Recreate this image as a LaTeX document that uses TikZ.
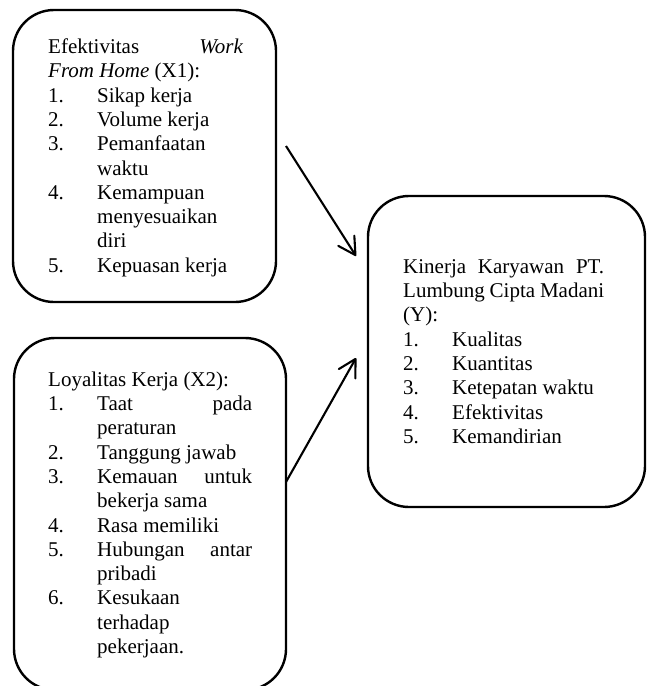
\documentclass[tikz,border=0pt]{standalone}
\usepackage{fontspec}
\setmainfont{Liberation Serif}
\usetikzlibrary{arrows.meta}
\newcommand\lbnum[1]{\makebox[49pt][l]{#1}}
\newcommand\lbind{\hspace*{49pt}}
\tikzset{
  panel/.style={draw, line width=2.4pt, rounded corners=41pt, inner sep=0pt},
  paneltext/.style={anchor=north west, inner sep=0pt, align=justify,
    font=\fontsize{21}{24.3}\selectfont},
  link/.style={line width=2.1pt, -{Straight Barb[length=17pt,width=19pt,line cap=round,line join=round]}}
}
\begin{document}
\begin{tikzpicture}[x=1pt,y=-1pt]
\useasboundingbox (0,0) rectangle (648,686);
% boxes
\node[panel, minimum width=263pt, minimum height=292pt] (b1) at (144.5,156) {};
\node[panel, minimum width=272pt, minimum height=352pt] (b2) at (150,514) {};
\node[panel, minimum width=277pt, minimum height=311pt] (b3) at (506.5,351.5) {};
% texts
\node[paneltext, text width=195pt] (t1) at (48,36.3) {\noindent\strut Efektivitas\hfill\textit{Work}\\
\textit{From Home} (X1):\\
\lbnum{1.}Sikap kerja\\
\lbnum{2.}Volume kerja\\
\lbnum{3.}Pemanfaatan\\
\lbind waktu\\
\lbnum{4.}Kemampuan\\
\lbind menyesuaikan\\
\lbind diri\\
\lbnum{5.}Kepuasan kerja};
\node[paneltext, text width=204pt] (t2) at (48,369) {\noindent\strut Loyalitas Kerja (X2):\\
\lbnum{1.}Taat\hfill pada\\
\lbind peraturan\\
\lbnum{2.}Tanggung jawab\\
\lbnum{3.}Kemauan\hfill untuk\\
\lbind bekerja sama\\
\lbnum{4.}Rasa memiliki\\
\lbnum{5.}Hubungan\hfill antar\\
\lbind pribadi\\
\lbnum{6.}Kesukaan\\
\lbind terhadap\\
\lbind pekerjaan.};
\node[paneltext, text width=201pt] (t3) at (403,256) {\noindent\strut Kinerja\hfill Karyawan\hfill PT.\\
Lumbung Cipta Madani\\
(Y):\\
\lbnum{1.}Kualitas\\
\lbnum{2.}Kuantitas\\
\lbnum{3.}Ketepatan waktu\\
\lbnum{4.}Efektivitas\\
\lbnum{5.}Kemandirian};
% arrows
\coordinate (s1) at (286,146);
\coordinate (e1) at (356,256);
\coordinate (s2) at (286,482);
\coordinate (e2) at (356,358);
\draw[link] (s1) -- (e1);
\draw[link] (s2) -- (e2);
\end{tikzpicture}
\end{document}
